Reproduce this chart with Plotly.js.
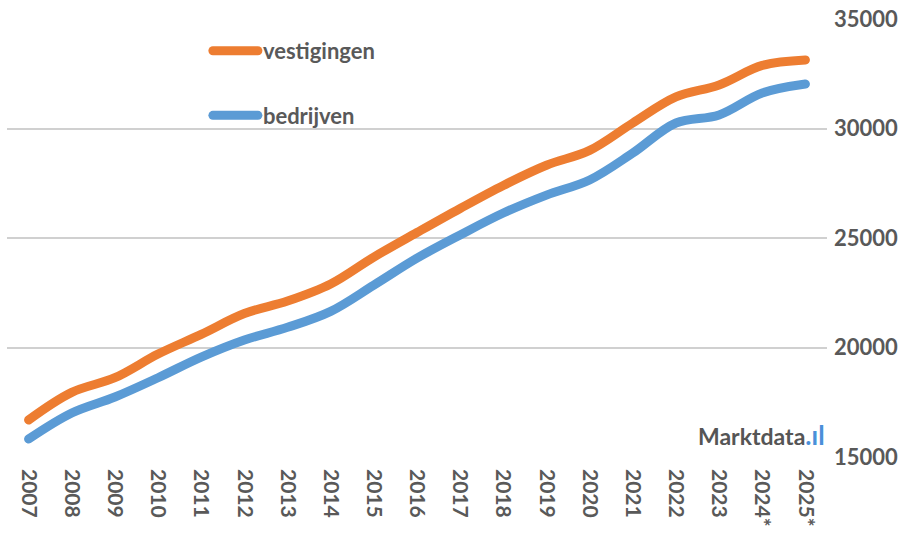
<!DOCTYPE html>
<html>
<head>
<meta charset="utf-8">
<script src="https://cdn.plot.ly/plotly-3.0.1.min.js"></script>
<style>
html,body{margin:0;padding:0;background:#fff;}
#chart{width:924px;height:542px;}
.scatterlayer path.js-line{stroke-linecap:round;}
.legend path.js-line{stroke-linecap:round;}
</style>
</head>
<body>
<div id="chart"></div>
<script>
const years = ["2007","2008","2009","2010","2011","2012","2013","2014","2015","2016","2017","2018","2019","2020","2021","2022","2023","2024*","2025*"];
const vestigingen = [16690,17950,18620,19700,20600,21550,22120,22900,24130,25250,26350,27400,28320,29000,30250,31440,31990,32880,33130];
const bedrijven = [15820,17010,17740,18620,19560,20340,20920,21650,22850,24080,25140,26140,26960,27650,28880,30250,30620,31620,32030];
const yTicks = [15000,20000,25000,30000,35000];

const FONT = "Lato, 'Open Sans', sans-serif";
const GREY = "#595959";

const traces = [
  {x: years, y: vestigingen, name: "vestigingen", type: "scatter", mode: "lines",
   line: {color: "#ED7D31", width: 9, shape: "spline", smoothing: 1}, legendgroup: "a"},
  {x: years, y: bedrijven, name: "bedrijven", type: "scatter", mode: "lines",
   line: {color: "#5B9BD5", width: 9, shape: "spline", smoothing: 1}, legendgroup: "b"}
];

const layout = {
  width: 924, height: 542,
  margin: {l: 7, r: 97, t: 19, b: 85},
  paper_bgcolor: "#fff", plot_bgcolor: "#fff",
  font: {family: FONT, color: GREY},
  showlegend: true,
  legend: {x: 0.245, y: 0.975, xanchor: "left", yanchor: "top", traceorder: "grouped",
           tracegroupgap: 33, itemwidth: 45, bgcolor: "rgba(0,0,0,0)",
           font: {family: FONT, size: 22, color: GREY, weight: "bold"}},
  xaxis: {type: "category", range: [-0.5, 18.5], tickangle: 90, showgrid: false,
          showline: false, zeroline: false, ticks: "", ticklabelstandoff: 11,
          tickfont: {family: FONT, size: 21, color: GREY, weight: "bold"}, fixedrange: true},
  yaxis: {side: "right", range: [15000, 35000], tickvals: yTicks, ticktext: yTicks.map(String),
          showgrid: true, gridcolor: "#D0D0D0", gridwidth: 2, zeroline: false, showline: false,
          ticks: "", ticklabelstandoff: 6,
          tickfont: {family: FONT, size: 22, color: GREY, weight: "bold"}, fixedrange: true},
  annotations: [
    {xref: "paper", yref: "paper", x: 1.0, y: 0.01, xanchor: "right", yanchor: "bottom",
     showarrow: false,
     text: "Marktdata<span style='color:#4A90D9;font-size:26px'>.ıl</span>",
     font: {family: FONT, size: 23, color: "#555555", weight: "bold"}}
  ]
};

Plotly.newPlot("chart", traces, layout, {displayModeBar: false, staticPlot: true});
</script>
</body>
</html>
